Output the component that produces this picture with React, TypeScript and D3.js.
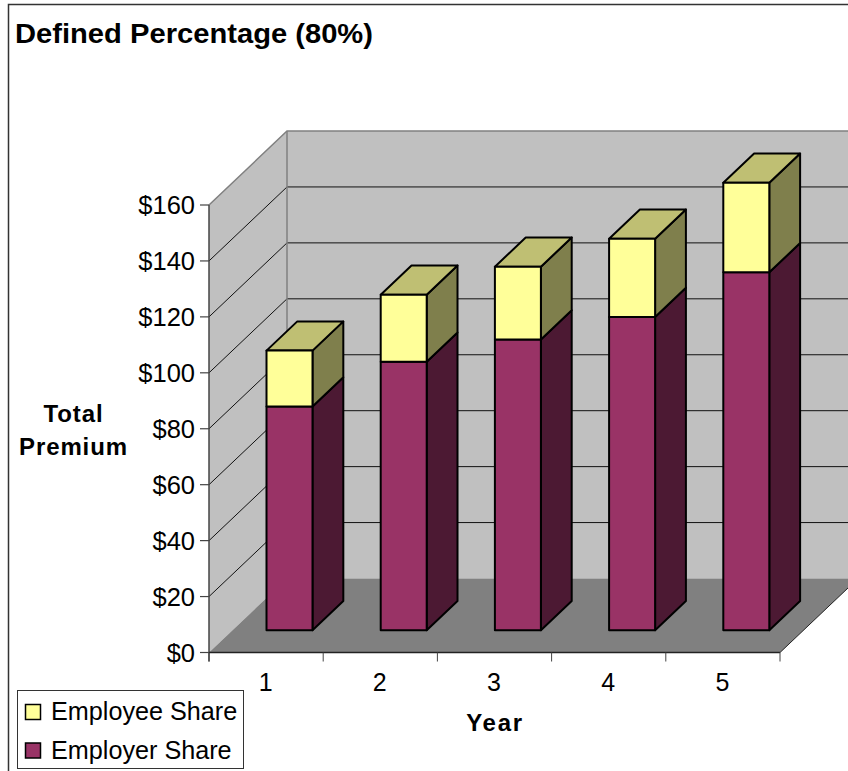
import React from "react";
import * as d3 from "d3";

// Premium by plan year, split between the two payers
const years = ["1", "2", "3", "4", "5"];
const employerShare = [80, 96, 104, 112, 128];
const employeeShare = [20, 24, 26, 28, 32];
const yTicks = [0, 20, 40, 60, 80, 100, 120, 140, 160];
const legendItems = [
  { label: "Employee Share", fill: "#ffff99" },
  { label: "Employer Share", fill: "#993366" },
];

const WIDTH = 848;
const HEIGHT = 771;
const FONT = "'Liberation Sans', Arial, sans-serif";

// Front plane of the 3D box
const xScale = d3.scaleBand<string>().domain(years).range([209, 780]);
const yScale = d3.scaleLinear().domain([0, 160]).range([652.5, 205]);
// Oblique projection: depth 0 is the front plane, depth 1 the back wall
const depthX = d3.scaleLinear().domain([0, 1]).range([0, 78]);
const depthY = d3.scaleLinear().domain([0, 1]).range([0, -74]);

const BAR_WIDTH = 46;
const BAR_DEPTH_START = 0.3;
const BAR_DEPTH_END = 0.695;
const formatDollars = d3.format("$d");

type Pt = [number, number];
const project = (x: number, value: number, depth: number): Pt => [
  x + depthX(depth),
  yScale(value) + depthY(depth),
];
const poly = (pts: Pt[]) => pts.map((p) => p.join(",")).join(" ");

function Block({ x, from, to, front, side, top }: { x: number; from: number; to: number; front: string; side: string; top?: string }) {
  const d0 = BAR_DEPTH_START;
  const d1 = BAR_DEPTH_END;
  const x1 = x + BAR_WIDTH;
  const stroke = { stroke: "#000", strokeWidth: 2, strokeLinejoin: "round" as const };
  return (
    <g>
      <polygon points={poly([project(x1, from, d0), project(x1, from, d1), project(x1, to, d1), project(x1, to, d0)])} fill={side} {...stroke} />
      {top && (
        <polygon points={poly([project(x, to, d0), project(x1, to, d0), project(x1, to, d1), project(x, to, d1)])} fill={top} {...stroke} />
      )}
      <polygon points={poly([project(x, from, d0), project(x1, from, d0), project(x1, to, d0), project(x, to, d0)])} fill={front} {...stroke} />
    </g>
  );
}

export default function App() {
  const left = xScale.range()[0];
  const right = xScale.range()[1];
  const step = xScale.step();
  const maxV = yTicks[yTicks.length - 1];
  const tickXs = d3.range(years.length + 1).map((i) => left + i * step);

  return (
    <svg
      width={WIDTH}
      height={HEIGHT}
      viewBox={`0 0 ${WIDTH} ${HEIGHT}`}
      style={{ position: "absolute", left: 0, top: 0, display: "block", background: "#fff" }}
      fontFamily={FONT}
    >
      {/* Chart area frame */}
      <path d={`M8.5,${HEIGHT} V4.5 H${WIDTH}`} fill="none" stroke="#333" strokeWidth={1.5} />
      <text x={15} y={42.5} fontSize={27} fontWeight="bold" fill="#000" textLength={358} lengthAdjust="spacingAndGlyphs">
        Defined Percentage (80%)
      </text>

      {/* Walls and floor */}
      <polygon points={poly([project(left, 0, 1), project(WIDTH, 0, 1), project(WIDTH, maxV, 1), project(left, maxV, 1)])} fill="#c0c0c0" />
      <polygon points={poly([project(left, 0, 0), project(left, 0, 1), project(left, maxV, 1), project(left, maxV, 0)])} fill="#c0c0c0" />

      {/* Gridlines run along the side wall, then across the back wall */}
      {yTicks.slice(1, -1).map((t) => {
        const a = project(left, t, 0);
        const b = project(left, t, 1);
        const c = project(WIDTH, t, 1);
        return <polyline key={t} points={poly([a, b, c])} fill="none" stroke="#111" strokeWidth={1} />;
      })}
      <polygon points={poly([project(left, 0, 0), project(right, 0, 0), project(right, 0, 1), project(left, 0, 1)])} fill="#808080" />

      {/* Wall edges */}
      <polyline points={poly([project(left, maxV, 0), project(left, maxV, 1), project(WIDTH, maxV, 1)])} fill="none" stroke="#808080" strokeWidth={1.5} />
      <line x1={project(left, 0, 1)[0]} x2={project(left, 0, 1)[0]} y1={project(left, 0, 1)[1]} y2={project(left, maxV, 1)[1]} stroke="#808080" strokeWidth={1.5} />
      <line x1={project(right, 0, 0)[0]} y1={project(right, 0, 0)[1]} x2={project(right, 0, 1)[0]} y2={project(right, 0, 1)[1]} stroke="#222" strokeWidth={1} />

      {/* Stacked bars */}
      {years.map((year, i) => {
        const x = (xScale(year) as number) + step / 2 - BAR_WIDTH / 2;
        const employer = employerShare[i];
        const total = employer + employeeShare[i];
        return (
          <g key={year}>
            <Block x={x} from={0} to={employer} front="#993366" side="#4c1933" />
            <Block x={x} from={employer} to={total} front="#ffff99" side="#7f7f4c" top="#bfbf73" />
          </g>
        );
      })}

      {/* Axes */}
      <line x1={left} x2={left} y1={yScale(maxV)} y2={yScale(0) + 9} stroke="#444" strokeWidth={1.5} />
      <line x1={left} x2={right} y1={yScale(0)} y2={yScale(0)} stroke="#222" strokeWidth={1.5} />
      {yTicks.map((t) => (
        <g key={t}>
          <line x1={left - 9} x2={left} y1={yScale(t)} y2={yScale(t)} stroke="#444" strokeWidth={1.2} />
          <text x={195} y={yScale(t) + 9} textAnchor="end" fontSize={25.5} fill="#000">
            {formatDollars(t)}
          </text>
        </g>
      ))}
      {tickXs.map((x, i) => (
        <line key={i} x1={x} x2={x} y1={yScale(0)} y2={yScale(0) + 9} stroke="#444" strokeWidth={1} />
      ))}
      {years.map((year) => (
        <text key={year} x={(xScale(year) as number) + step / 2 - 0.5} y={690.5} textAnchor="middle" fontSize={25} fill="#000">
          {year}
        </text>
      ))}

      {/* Axis titles */}
      <text x={73.5} y={422} textAnchor="middle" fontSize={24} fontWeight="bold" letterSpacing={0.9}>Total</text>
      <text x={73.5} y={455} textAnchor="middle" fontSize={24} fontWeight="bold" letterSpacing={0.9}>Premium</text>
      <text x={495} y={731} textAnchor="middle" fontSize={24} fontWeight="bold" letterSpacing={1.7}>Year</text>

      {/* Legend */}
      <rect x={17.5} y={690.5} width={226} height={78} fill="#fff" stroke="#333" strokeWidth={1} />
      {legendItems.map((item, i) => (
        <g key={item.label}>
          <rect x={25.5} y={704.5 + i * 38.5} width={15} height={15} fill={item.fill} stroke="#000" strokeWidth={1.5} />
          <text x={51} y={720 + i * 38.5} fontSize={25.2} fill="#000">{item.label}</text>
        </g>
      ))}
    </svg>
  );
}
